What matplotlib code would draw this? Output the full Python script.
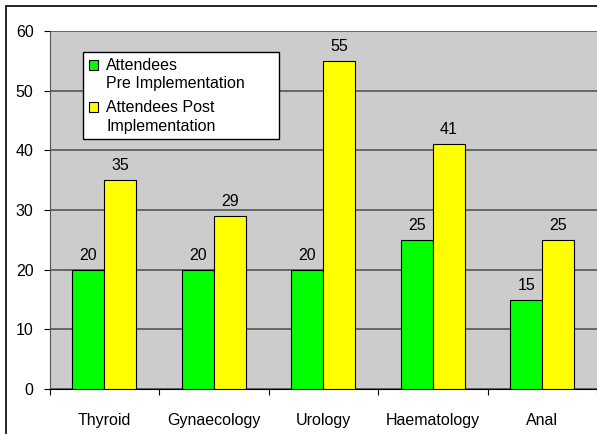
import numpy as np
import matplotlib.pyplot as plt
from matplotlib.patches import Rectangle
from matplotlib.container import BarContainer
from matplotlib.legend_handler import HandlerPatch, update_from_first_child

plt.rcParams['font.family'] = ['Liberation Sans', 'DejaVu Sans']

categories = ['Thyroid', 'Gynaecology', 'Urology', 'Haematology', 'Anal']
pre = [20, 20, 20, 25, 15]
post = [35, 29, 55, 41, 25]

W, H = 597, 434
fig = plt.figure(figsize=(W / 100, H / 100), dpi=100)
# plot area in pixels: x 49.5..597, y 31..389
ax = fig.add_axes([49.5 / W, 1 - 389 / H, (597 - 49.5) / W, (389 - 31) / H])

# outer chart frame
fig.patches.append(Rectangle((6 / W, -0.05), 1.05, 1 - 6 / H + 0.05,
                             transform=fig.transFigure, fill=False,
                             edgecolor='black', linewidth=1.2))

x = np.arange(len(categories))
bw = 0.29
fs = 11.5
ax.set_facecolor('#CCCCCC')
b1 = ax.bar(x - bw / 2, pre, bw, color='#00FF00', edgecolor='black',
            linewidth=0.8, label='Attendees\nPre Implementation', zorder=3)
b2 = ax.bar(x + bw / 2, post, bw, color='#FFFF00', edgecolor='black',
            linewidth=0.8, label='Attendees Post\nImplementation', zorder=3)
for bars in (b1, b2):
    ax.bar_label(bars, padding=5, fontsize=fs)

ax.set_xlim(-0.5, len(categories) - 0.5)
ax.set_ylim(0, 60)
ax.set_yticks(range(0, 61, 10))
ax.set_xticks(np.arange(-0.5, len(categories), 1))
ax.set_xticklabels([])
ax.set_xticks(x, minor=True)
ax.set_xticklabels(categories, minor=True, fontsize=fs)
ax.tick_params(axis='x', which='minor', length=0, pad=17)
ax.tick_params(axis='x', which='major', length=4.5, direction='out')
ax.tick_params(axis='y', length=4.5, direction='out', labelsize=fs, pad=7)
ax.yaxis.grid(True, color='#555555', linewidth=1.2, zorder=0)
for s in ['top', 'right']:
    ax.spines[s].set_visible(False)
ax.spines['left'].set_color('#555555')
ax.spines['bottom'].set_color('black')


def top_patch(legend, orig_handle, xdescent, ydescent, width, height, fontsize):
    # put the colour box next to the first line of a two-line label
    return Rectangle((-xdescent, -ydescent + 0.62 * fontsize), width, height)


ph = 358.0
pw = 597 - 49.5
leg = ax.legend(loc='upper left',
                bbox_to_anchor=((83 - 49.5) / pw, 1 - (139 - 31) / ph,
                                (279 - 83) / pw, (139 - 52) / ph),
                mode='expand',
                frameon=True, fancybox=False, fontsize=fs, handlelength=0.6,
                handleheight=0.6, handletextpad=0.5, borderpad=0.35,
                labelspacing=0.55, borderaxespad=0,
                handler_map={BarContainer: HandlerPatch(patch_func=top_patch,
                                                        update_func=update_from_first_child)})
for t in leg.get_texts():
    t.set_linespacing(1.3)
for h in leg.legend_handles:
    h.set_edgecolor('black')
    h.set_linewidth(0.8)
leg.get_frame().set_edgecolor('black')
leg.get_frame().set_linewidth(1.0)
leg.get_frame().set_facecolor('white')
leg.get_frame().set_alpha(1)

fig.savefig('out.png', dpi=100)
